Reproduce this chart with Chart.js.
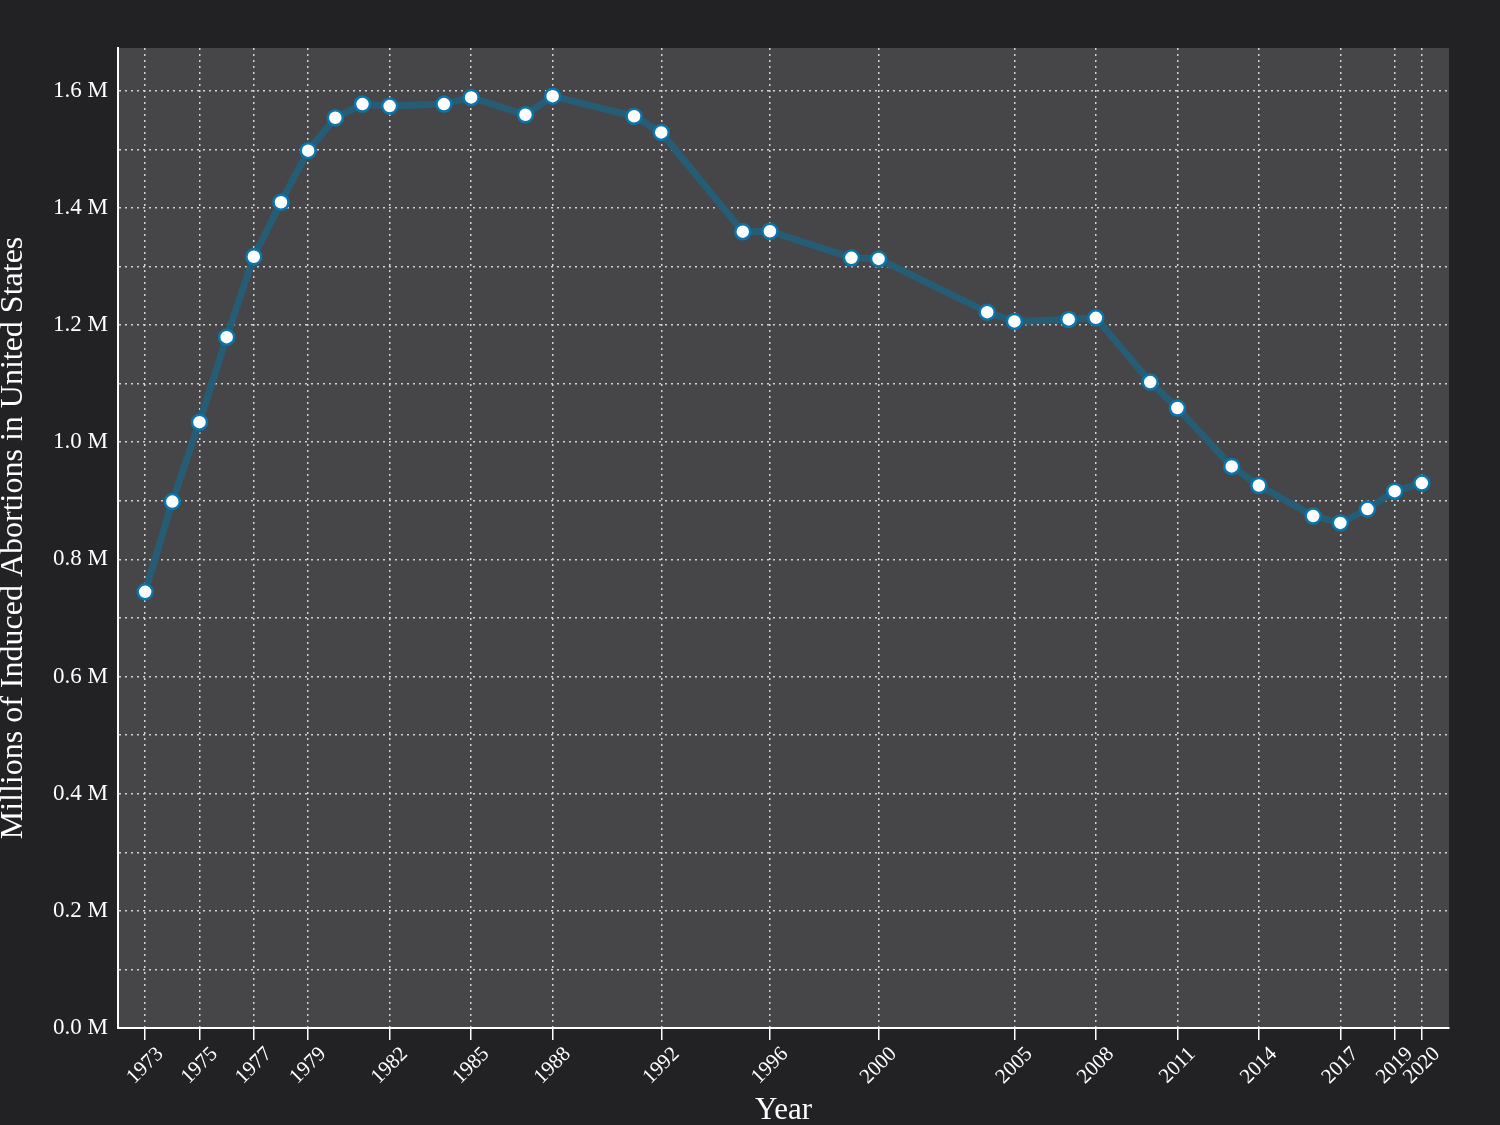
<!DOCTYPE html>
<html>
<head>
<meta charset="utf-8">
<script src="https://cdn.jsdelivr.net/npm/chart.js@4.4.0/dist/chart.umd.min.js"></script>
<style>
  html, body { margin: 0; padding: 0; background: #222224; }
  #wrap { width: 1500px; height: 1125px; }
</style>
</head>
<body>
<div id="wrap"><canvas id="grafico"></canvas></div>
<script>
// years with data
const years = [1973, 1974, 1975, 1976, 1977, 1978, 1979, 1980, 1981, 1982, 1984, 1985, 1987, 1988,
    1991, 1992, 1995, 1996, 1999, 2000, 2004, 2005, 2007, 2008, 2010, 2011, 2013, 2014,
    2016, 2017, 2018, 2019, 2020];
// induced abortions
const abortions = [744600, 898600, 1034200, 1179300, 1316700, 1409600, 1497700, 1553900, 1577300,
    1573900, 1577200, 1588600, 1559100, 1590800, 1556500, 1528900, 1359400, 1360200, 1314800,
    1313000, 1222100, 1206200, 1209600, 1212400, 1102700, 1058500, 958700, 926200, 874100,
    862300, 885800, 916500, 930200];
// labelled years on the x axis
const xTicks = [1973, 1975, 1977, 1979, 1982, 1985, 1988, 1992, 1996, 2000, 2005, 2008, 2011,
    2014, 2017, 2019, 2020];
// y grid lines (labels every second one)
const yTicks = [0, 100000, 200000, 300000, 400000, 500000, 600000, 700000, 800000,
    900000, 1000000, 1100000, 1200000, 1300000, 1400000, 1500000, 1600000];

const fuente = '"Liberation Serif", "DejaVu Serif", serif';

// fondo gris del area del grafico
const fondoArea = {
    id: 'fondoArea',
    beforeDraw(chart) {
        const { ctx, chartArea } = chart;
        ctx.save();
        ctx.fillStyle = '#464648';
        ctx.fillRect(chartArea.left, chartArea.top, chartArea.right - chartArea.left, chartArea.bottom - chartArea.top);
        ctx.restore();
    }
};

const puntos = years.map((y, i) => ({ x: y, y: abortions[i] }));

const ctx = document.getElementById('grafico').getContext('2d');
new Chart(ctx, {
    type: 'line',
    data: {
        datasets: [{
            data: puntos,
            borderColor: 'rgba(38, 92, 116, 1)',
            borderWidth: 7,
            tension: 0,
            pointRadius: 7.5,
            pointBorderWidth: 2.5,
            pointBackgroundColor: '#ffffff',
            pointBorderColor: '#0a74ad',
            pointHoverRadius: 7.5
        }]
    },
    options: {
        responsive: true,
        maintainAspectRatio: false,
        animation: false,
        layout: { padding: { top: 48, right: 51, left: 0, bottom: 0 } },
        plugins: {
            legend: { display: false },
            tooltip: { enabled: false }
        },
        scales: {
            x: {
                type: 'linear',
                min: 1972,
                max: 2021,
                bounds: 'data',
                afterBuildTicks: (scale) => { scale.ticks = xTicks.map(v => ({ value: v })); },
                afterFit: (scale) => { scale.height = 97; },
                grid: {
                    color: '#d2d2d2',
                    lineWidth: 1.5,
                    tickColor: '#ffffff',
                    tickLength: 12,
                    tickWidth: 1.5
                },
                border: { color: '#ffffff', width: 2, dash: [2, 4] },
                ticks: {
                    autoSkip: false,
                    minRotation: 45,
                    maxRotation: 45,
                    labelOffset: 15,
                    padding: 2,
                    color: '#ffffff',
                    font: { family: fuente, size: 21 },
                    callback: (v) => String(v)
                },
                title: {
                    display: true,
                    text: 'Year',
                    color: '#ffffff',
                    font: { family: fuente, size: 31, lineHeight: 0.9 },
                    padding: { top: 0, bottom: 0 }
                }
            },
            y: {
                min: 0,
                max: 1673000,
                bounds: 'data',
                afterBuildTicks: (scale) => { scale.ticks = yTicks.map(v => ({ value: v })); },
                afterFit: (scale) => { scale.width = 118; },
                grid: {
                    color: '#d2d2d2',
                    lineWidth: 1.5,
                    drawTicks: false
                },
                border: { color: '#ffffff', width: 2, dash: [2, 4] },
                ticks: {
                    padding: 10,
                    color: '#ffffff',
                    font: { family: fuente, size: 23 },
                    callback: (v) => {
                        const n = Math.round(v / 100000);
                        return n % 2 === 0 ? (v / 1e6).toFixed(1) + ' M' : '';
                    }
                },
                title: {
                    display: true,
                    text: 'Millions of Induced Abortions in United States',
                    color: '#ffffff',
                    font: { family: fuente, size: 32, lineHeight: 0.88 },
                    padding: { top: 0, bottom: 0 }
                }
            }
        }
    },
    plugins: [fondoArea]
});
</script>
</body>
</html>
